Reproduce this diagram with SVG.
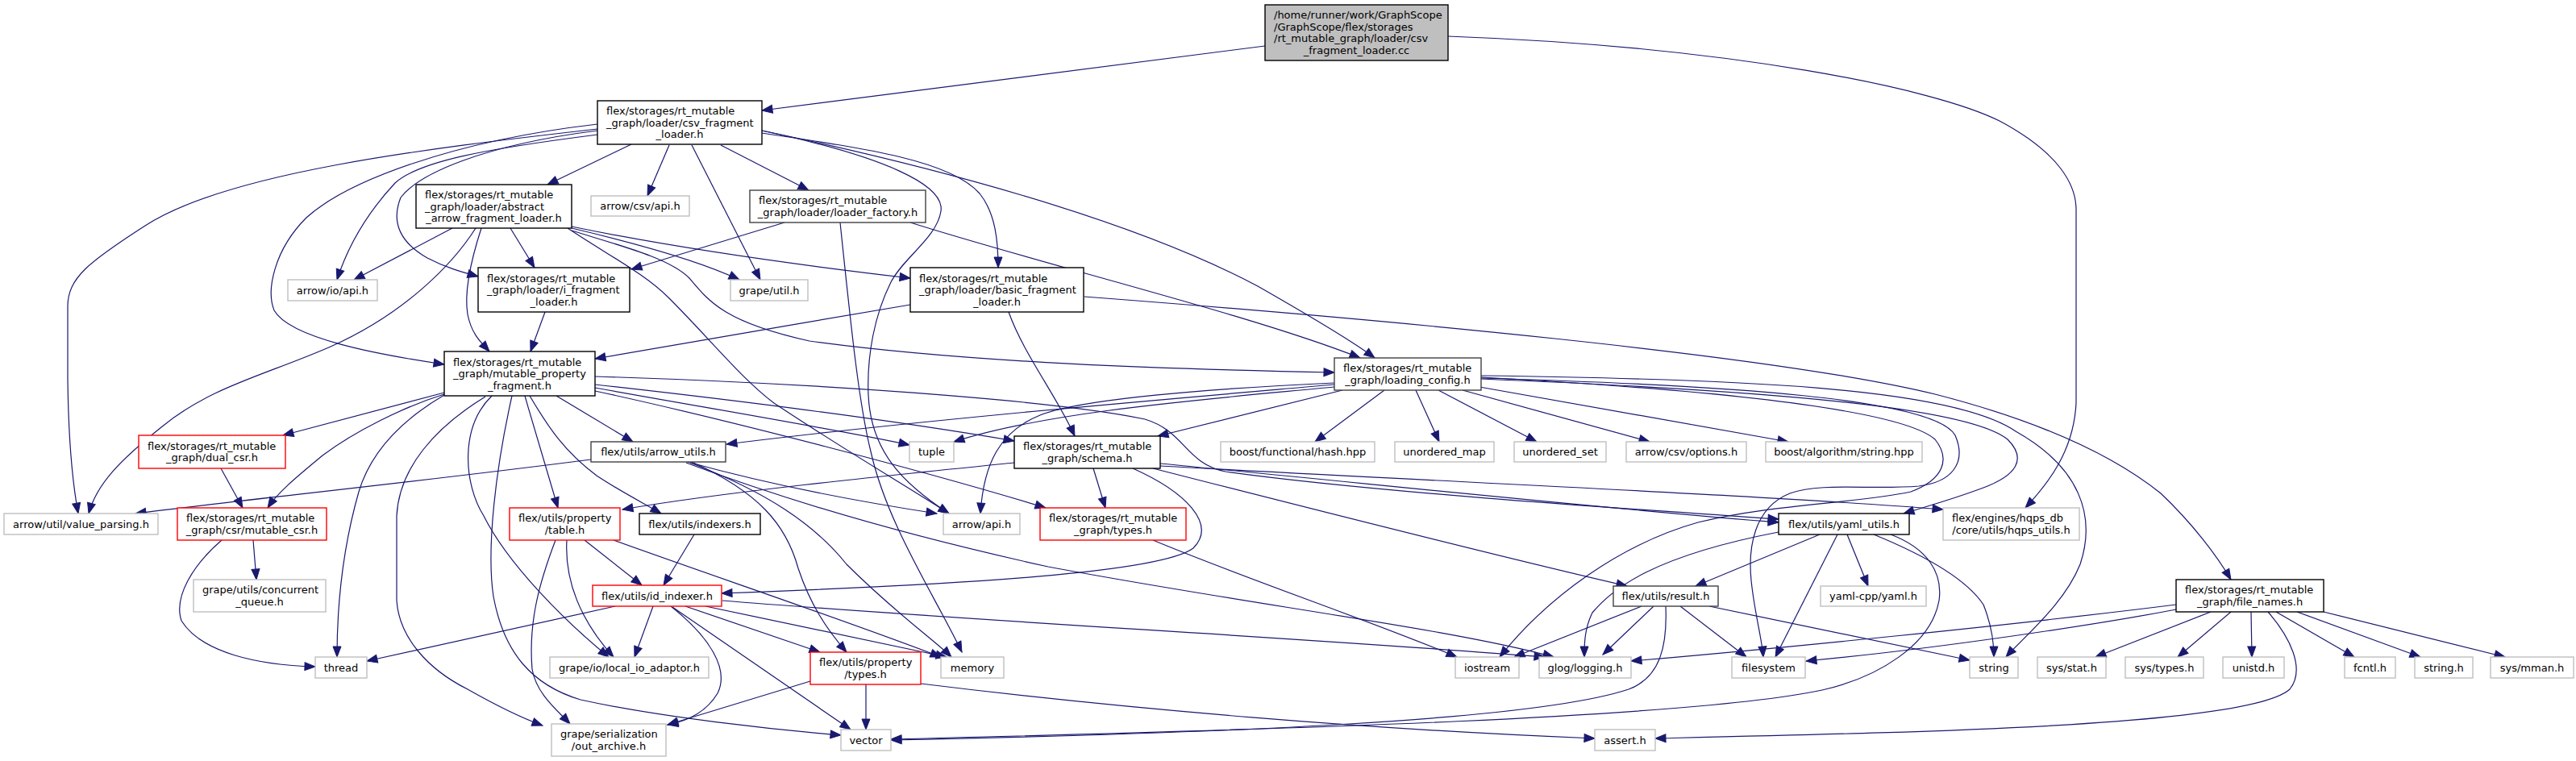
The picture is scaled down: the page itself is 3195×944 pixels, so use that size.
<svg xmlns="http://www.w3.org/2000/svg" width="3195" height="944" viewBox="0 0 3195 944">
<style>
.e{fill:none;stroke:#191970;stroke-width:1.2;marker-end:url(#ah)}
rect{fill:#fff;stroke-width:1.4}
.k rect{stroke:#000}
.d rect{stroke:#404040}
.g rect{stroke:#bfbfbf}
.r rect{stroke:#ff0000}
text{font-family:"DejaVu Sans","Liberation Sans",sans-serif;font-size:13px;fill:#000}
.l{text-anchor:start}
.c{text-anchor:middle}
</style>
<defs>
<marker id="ah" markerWidth="13" markerHeight="10" refX="13" refY="5" orient="auto" markerUnits="userSpaceOnUse" overflow="visible">
<path d="M0,0 L13,5 L0,10 z" fill="#191970" stroke="#191970" stroke-width="1"/>
</marker>
</defs>
<rect x="0" y="0" width="3195" height="944" style="fill:#fff;stroke:none"/>
<g id="edges">
<path class="e" d="M1569,57 L945,137"/>
<path class="e" d="M1796,45 C2150,58 2400,110 2480,150 C2555,190 2575,230 2575,260 L2575,500 C2572,560 2540,600 2512,630"/>
<path class="e" d="M783,179 L679,229"/>
<path class="e" d="M830,180 L803,243"/>
<path class="e" d="M858,180 L943,347"/>
<path class="e" d="M894,180 L1003,236"/>
<path class="e" d="M945,162 C1100,195 1172,230 1167,262 C1162,295 1120,320 1105,350 C1085,390 1075,440 1077,490 C1080,560 1120,600 1177,637"/>
<path class="e" d="M945,165 C1080,185 1180,200 1215,240 C1235,265 1238,300 1238,332"/>
<path class="e" d="M945,162 C1150,205 1400,270 1560,355 C1630,395 1680,425 1705,444"/>
<path class="e" d="M741,167 C600,185 520,200 490,227 C450,270 430,310 418,347"/>
<path class="e" d="M741,162 C600,180 520,215 497,245 C485,275 495,300 530,320 C555,333 575,338 593,343"/>
<path class="e" d="M741,154 C560,175 430,225 380,270 C340,310 330,360 340,385 C360,420 470,440 551,452"/>
<path class="e" d="M741,160 C520,185 280,215 180,280 C110,325 84,345 84,380 L84,470 C85,560 92,610 97,637"/>
<path class="e" d="M561,283 L439,347"/>
<path class="e" d="M590,283 C560,330 500,390 410,430 C330,465 260,480 200,530 C150,570 120,600 110,637"/>
<path class="e" d="M597,283 C585,320 575,360 580,390 C585,415 597,425 607,436"/>
<path class="e" d="M633,283 L663,332"/>
<path class="e" d="M709,283 C760,295 860,320 917,347"/>
<path class="e" d="M709,281 C850,310 1000,330 1129,345"/>
<path class="e" d="M709,286 C770,305 830,320 855,345 C880,375 900,400 1004,423 C1200,450 1450,458 1655,462"/>
<path class="e" d="M704,283 C760,320 800,340 830,370 C880,420 920,470 960,500 C1050,560 1120,600 1177,637"/>
<path class="e" d="M973,276 L783,334"/>
<path class="e" d="M1042,276 C1055,400 1065,500 1080,560 C1100,650 1160,740 1193,809"/>
<path class="e" d="M1129,276 C1300,330 1550,390 1687,444"/>
<path class="e" d="M676,387 L658,436"/>
<path class="e" d="M1129,378 C1000,400 850,425 738,445"/>
<path class="e" d="M1251,387 C1270,440 1310,490 1333,541"/>
<path class="e" d="M1345,368 C1700,395 2200,440 2400,489 C2560,530 2640,580 2680,612 C2720,650 2750,690 2767,719"/>
<path class="e" d="M1717,484 L1631,548"/>
<path class="e" d="M1756,484 L1785,548"/>
<path class="e" d="M1784,484 L1906,548"/>
<path class="e" d="M1814,484 L2046,548"/>
<path class="e" d="M1835,480 L2218,548"/>
<path class="e" d="M1655,480 C1500,495 1300,510 1183,548"/>
<path class="e" d="M1655,477 C1450,495 1150,520 901,551"/>
<path class="e" d="M1655,475 C1500,482 1340,495 1290,515 C1240,535 1220,575 1216,637"/>
<path class="e" d="M1665,484 L1436,541"/>
<path class="e" d="M1837,468 C2150,485 2360,510 2400,545 C2420,570 2410,595 2370,610 C2300,625 2200,625 2106,648 C2010,675 1920,740 1860,815"/>
<path class="e" d="M1837,470 C2200,485 2440,505 2490,545 C2515,570 2500,590 2460,605 C2420,620 2390,628 2361,637"/>
<path class="e" d="M1837,469 C2150,478 2400,495 2425,540 C2440,575 2420,598 2380,603 C2320,608 2260,598 2220,612 C2175,630 2168,680 2172,720 C2176,760 2185,790 2187,815"/>
<path class="e" d="M1837,466 C2150,470 2420,480 2500,535 C2580,580 2600,640 2580,700 C2560,750 2510,790 2488,815"/>
<path class="e" d="M551,487 L351,540"/>
<path class="e" d="M551,489 C500,505 440,535 400,565 C370,590 345,610 332,630"/>
<path class="e" d="M551,490 C500,520 460,560 445,610 C425,680 418,750 418,815"/>
<path class="e" d="M602,492 C540,530 495,580 492,640 L492,745 C495,790 530,830 580,855 C610,872 640,888 673,900"/>
<path class="e" d="M610,491 C570,530 575,600 600,640 C630,700 700,770 755,815"/>
<path class="e" d="M635,491 C615,580 603,680 612,740 C625,810 660,850 720,868 C820,890 960,905 1043,912"/>
<path class="e" d="M651,491 C665,540 680,590 692,630"/>
<path class="e" d="M657,491 C680,530 700,560 740,590 C770,610 800,625 820,637"/>
<path class="e" d="M690,491 L785,548"/>
<path class="e" d="M738,477 C900,495 1100,520 1258,547"/>
<path class="e" d="M738,481 C900,510 1050,535 1128,552"/>
<path class="e" d="M738,485 C900,520 1150,585 1297,630"/>
<path class="e" d="M738,467 C1000,475 1300,495 1420,520 C1470,535 1470,575 1520,585 C1700,610 2000,630 2206,644"/>
<path class="e" d="M1356,581 L1371,630"/>
<path class="e" d="M1258,574 C1100,590 900,610 772,632"/>
<path class="e" d="M1405,581 C1470,610 1510,650 1480,680 C1440,710 1200,725 895,736"/>
<path class="e" d="M1439,575 C1700,600 2000,632 2206,648"/>
<path class="e" d="M1430,581 C1700,650 1900,700 2018,727"/>
<path class="e" d="M1439,578 C1800,598 2200,615 2410,632"/>
<path class="e" d="M1430,670 C1550,720 1700,770 1807,815"/>
<path class="e" d="M733,570 C500,600 300,620 168,637"/>
<path class="e" d="M853,573 C950,600 1050,620 1162,637"/>
<path class="e" d="M856,574 C950,610 1010,650 1050,700 C1110,760 1160,795 1180,815"/>
<path class="e" d="M858,573 C940,610 975,650 990,705 C1005,750 1025,780 1050,809"/>
<path class="e" d="M851,574 C1000,630 1150,670 1300,703 C1550,750 1800,780 1927,815"/>
<path class="e" d="M861,663 L823,726"/>
<path class="e" d="M725,670 L796,726"/>
<path class="e" d="M703,670 C700,720 720,770 761,815"/>
<path class="e" d="M689,670 C670,720 655,770 660,830 C665,860 690,880 707,898"/>
<path class="e" d="M761,670 C900,720 1050,770 1167,815"/>
<path class="e" d="M810,752 L787,815"/>
<path class="e" d="M832,752 C880,790 905,830 890,860 C875,885 850,895 828,899"/>
<path class="e" d="M834,753 L1055,905"/>
<path class="e" d="M850,752 L1017,809"/>
<path class="e" d="M875,752 L1174,815"/>
<path class="e" d="M763,752 L455,820"/>
<path class="e" d="M896,745 C1200,770 1600,790 1916,815"/>
<path class="e" d="M1005,845 L828,899"/>
<path class="e" d="M1074,849 L1074,905"/>
<path class="e" d="M1142,848 C1400,880 1700,905 1978,916"/>
<path class="e" d="M2257,663 L2103,727"/>
<path class="e" d="M2279,663 L2202,815"/>
<path class="e" d="M2291,663 L2317,727"/>
<path class="e" d="M2206,660 C2050,690 2000,730 1975,760 C1965,780 1965,800 1965,815"/>
<path class="e" d="M2324,663 C2390,690 2440,720 2460,750 C2470,775 2473,795 2473,815"/>
<path class="e" d="M2345,663 C2390,680 2410,710 2405,745 C2395,800 2330,840 2260,856 C2100,890 1600,905 1105,917"/>
<path class="e" d="M2036,752 L1878,815"/>
<path class="e" d="M2051,752 L1988,812"/>
<path class="e" d="M2084,752 L2166,815"/>
<path class="e" d="M2120,752 L2443,819"/>
<path class="e" d="M2066,752 C2068,800 2060,840 2020,855 C1900,895 1500,910 1105,918"/>
<path class="e" d="M2699,750 C2500,775 2200,805 2023,820"/>
<path class="e" d="M2699,756 C2600,775 2400,805 2240,820"/>
<path class="e" d="M2742,759 L2599,815"/>
<path class="e" d="M2767,759 L2701,815"/>
<path class="e" d="M2792,759 L2793,815"/>
<path class="e" d="M2823,759 L2920,815"/>
<path class="e" d="M2849,759 L3002,815"/>
<path class="e" d="M2882,759 L3107,815"/>
<path class="e" d="M2813,759 C2840,790 2860,830 2840,855 C2790,900 2400,908 2053,916"/>
<path class="e" d="M274,581 L301,630"/>
<path class="e" d="M314,670 L318,719"/>
<path class="e" d="M275,670 C240,700 215,740 225,770 C250,810 320,825 391,827"/>
</g>
<g id="n_cc" class="k"><rect x="1569" y="6" width="227" height="69" style="fill:#bfbfbf"/><text class="l" x="1580" y="23">/home/runner/work/GraphScope</text><text class="l" x="1580" y="37.5">/GraphScope/flex/storages</text><text class="l" x="1580" y="52">/rt_mutable_graph/loader/csv</text><text class="c" x="1682.5" y="66.5">_fragment_loader.cc</text></g>
<g id="n_csv" class="k"><rect x="741" y="125" width="204" height="54"/><text class="l" x="752" y="142">flex/storages/rt_mutable</text><text class="l" x="752" y="156.5">_graph/loader/csv_fragment</text><text class="c" x="843" y="171">_loader.h</text></g>
<g id="n_abs" class="k"><rect x="516" y="229" width="193" height="54"/><text class="l" x="527" y="246">flex/storages/rt_mutable</text><text class="l" x="527" y="260.5">_graph/loader/abstract</text><text class="c" x="612.5" y="275">_arrow_fragment_loader.h</text></g>
<g id="n_csvapi" class="g"><rect x="733" y="243" width="122" height="25"/><text class="c" x="794" y="260">arrow/csv/api.h</text></g>
<g id="n_lf" class="d"><rect x="930" y="236" width="218" height="40"/><text class="l" x="941" y="253.25">flex/storages/rt_mutable</text><text class="c" x="1039" y="267.75">_graph/loader/loader_factory.h</text></g>
<g id="n_ioapi" class="g"><rect x="357" y="347" width="111" height="26"/><text class="c" x="412.5" y="364.5">arrow/io/api.h</text></g>
<g id="n_gutil" class="g"><rect x="906" y="347" width="96" height="26"/><text class="c" x="954" y="364.5">grape/util.h</text></g>
<g id="n_ifl" class="k"><rect x="593" y="332" width="188" height="55"/><text class="l" x="604" y="349.5">flex/storages/rt_mutable</text><text class="l" x="604" y="364">_graph/loader/i_fragment</text><text class="c" x="687" y="378.5">_loader.h</text></g>
<g id="n_bfl" class="k"><rect x="1129" y="332" width="215" height="55"/><text class="l" x="1140" y="349.5">flex/storages/rt_mutable</text><text class="l" x="1140" y="364">_graph/loader/basic_fragment</text><text class="c" x="1236.5" y="378.5">_loader.h</text></g>
<g id="n_mpf" class="k"><rect x="551" y="436" width="187" height="55"/><text class="l" x="562" y="453.5">flex/storages/rt_mutable</text><text class="l" x="562" y="468">_graph/mutable_property</text><text class="c" x="644.5" y="482.5">_fragment.h</text></g>
<g id="n_lc" class="d"><rect x="1655" y="444" width="182" height="40"/><text class="l" x="1666" y="461.25">flex/storages/rt_mutable</text><text class="c" x="1746" y="475.75">_graph/loading_config.h</text></g>
<g id="n_dual" class="r"><rect x="172" y="540" width="182" height="41"/><text class="l" x="183" y="557.75">flex/storages/rt_mutable</text><text class="c" x="263" y="572.25">_graph/dual_csr.h</text></g>
<g id="n_vp" class="g"><rect x="5" y="637" width="191" height="26"/><text class="c" x="100.5" y="654.5">arrow/util/value_parsing.h</text></g>
<g id="n_mcsr" class="r"><rect x="220" y="630" width="185" height="40"/><text class="l" x="231" y="647.25">flex/storages/rt_mutable</text><text class="c" x="312.5" y="661.75">_graph/csr/mutable_csr.h</text></g>
<g id="n_cq" class="g"><rect x="240" y="719" width="164" height="40"/><text class="l" x="251" y="736.25">grape/utils/concurrent</text><text class="c" x="322" y="750.75">_queue.h</text></g>
<g id="n_thread" class="g"><rect x="391" y="815" width="64" height="26"/><text class="c" x="423" y="832.5">thread</text></g>
<g id="n_table" class="r"><rect x="632" y="630" width="137" height="40"/><text class="l" x="643" y="647.25">flex/utils/property</text><text class="c" x="700.5" y="661.75">/table.h</text></g>
<g id="n_au" class="d"><rect x="733" y="548" width="167" height="25"/><text class="c" x="816.5" y="565">flex/utils/arrow_utils.h</text></g>
<g id="n_idx" class="k"><rect x="793" y="637" width="150" height="26"/><text class="c" x="868" y="654.5">flex/utils/indexers.h</text></g>
<g id="n_idi" class="r"><rect x="735" y="726" width="160" height="26"/><text class="c" x="815" y="743.5">flex/utils/id_indexer.h</text></g>
<g id="n_lio" class="g"><rect x="682" y="815" width="197" height="26"/><text class="c" x="780.5" y="832.5">grape/io/local_io_adaptor.h</text></g>
<g id="n_oa" class="g"><rect x="684" y="898" width="142" height="40"/><text class="l" x="695" y="915.25">grape/serialization</text><text class="c" x="755" y="929.75">/out_archive.h</text></g>
<g id="n_tuple" class="g"><rect x="1128" y="548" width="55" height="25"/><text class="c" x="1155.5" y="565">tuple</text></g>
<g id="n_schema" class="k"><rect x="1258" y="541" width="181" height="40"/><text class="l" x="1269" y="558.25">flex/storages/rt_mutable</text><text class="c" x="1348.5" y="572.75">_graph/schema.h</text></g>
<g id="n_bfh" class="g"><rect x="1514" y="548" width="191" height="25"/><text class="c" x="1609.5" y="565">boost/functional/hash.hpp</text></g>
<g id="n_aapi" class="g"><rect x="1170" y="637" width="95" height="26"/><text class="c" x="1217.5" y="654.5">arrow/api.h</text></g>
<g id="n_rtt" class="r"><rect x="1290" y="630" width="181" height="40"/><text class="l" x="1301" y="647.25">flex/storages/rt_mutable</text><text class="c" x="1380.5" y="661.75">_graph/types.h</text></g>
<g id="n_ptypes" class="r"><rect x="1005" y="809" width="137" height="40"/><text class="l" x="1016" y="826.25">flex/utils/property</text><text class="c" x="1073.5" y="840.75">/types.h</text></g>
<g id="n_mem" class="g"><rect x="1167" y="815" width="78" height="26"/><text class="c" x="1206" y="832.5">memory</text></g>
<g id="n_vec" class="g"><rect x="1043" y="905" width="62" height="26"/><text class="c" x="1074" y="922.5">vector</text></g>
<g id="n_umap" class="g"><rect x="1730" y="548" width="123" height="25"/><text class="c" x="1791.5" y="565">unordered_map</text></g>
<g id="n_uset" class="g"><rect x="1878" y="548" width="114" height="25"/><text class="c" x="1935" y="565">unordered_set</text></g>
<g id="n_opts" class="g"><rect x="2017" y="548" width="149" height="25"/><text class="c" x="2091.5" y="565">arrow/csv/options.h</text></g>
<g id="n_bas" class="g"><rect x="2190" y="548" width="194" height="25"/><text class="c" x="2287" y="565">boost/algorithm/string.hpp</text></g>
<g id="n_yaml" class="k"><rect x="2206" y="637" width="162" height="26"/><text class="c" x="2287" y="654.5">flex/utils/yaml_utils.h</text></g>
<g id="n_res" class="d"><rect x="2001" y="727" width="130" height="25"/><text class="c" x="2066" y="744">flex/utils/result.h</text></g>
<g id="n_ycpp" class="g"><rect x="2258" y="727" width="131" height="25"/><text class="c" x="2323.5" y="744">yaml-cpp/yaml.h</text></g>
<g id="n_ios" class="g"><rect x="1805" y="815" width="79" height="26"/><text class="c" x="1844.5" y="832.5">iostream</text></g>
<g id="n_glog" class="g"><rect x="1909" y="815" width="114" height="26"/><text class="c" x="1966" y="832.5">glog/logging.h</text></g>
<g id="n_fs" class="g"><rect x="2148" y="815" width="91" height="26"/><text class="c" x="2193.5" y="832.5">filesystem</text></g>
<g id="n_assert" class="g"><rect x="1978" y="905" width="75" height="26"/><text class="c" x="2015.5" y="922.5">assert.h</text></g>
<g id="n_hqps" class="g"><rect x="2410" y="630" width="169" height="40"/><text class="l" x="2421" y="647.25">flex/engines/hqps_db</text><text class="c" x="2494.5" y="661.75">/core/utils/hqps_utils.h</text></g>
<g id="n_fn" class="k"><rect x="2699" y="719" width="183" height="40"/><text class="l" x="2710" y="736.25">flex/storages/rt_mutable</text><text class="c" x="2790.5" y="750.75">_graph/file_names.h</text></g>
<g id="n_str" class="g"><rect x="2443" y="815" width="60" height="26"/><text class="c" x="2473" y="832.5">string</text></g>
<g id="n_sstat" class="g"><rect x="2527" y="815" width="85" height="26"/><text class="c" x="2569.5" y="832.5">sys/stat.h</text></g>
<g id="n_stypes" class="g"><rect x="2636" y="815" width="97" height="26"/><text class="c" x="2684.5" y="832.5">sys/types.h</text></g>
<g id="n_unistd" class="g"><rect x="2757" y="815" width="76" height="26"/><text class="c" x="2795" y="832.5">unistd.h</text></g>
<g id="n_fcntl" class="g"><rect x="2908" y="815" width="63" height="26"/><text class="c" x="2939.5" y="832.5">fcntl.h</text></g>
<g id="n_strh" class="g"><rect x="2995" y="815" width="72" height="26"/><text class="c" x="3031" y="832.5">string.h</text></g>
<g id="n_mman" class="g"><rect x="3089" y="815" width="103" height="26"/><text class="c" x="3140.5" y="832.5">sys/mman.h</text></g>
</svg>
